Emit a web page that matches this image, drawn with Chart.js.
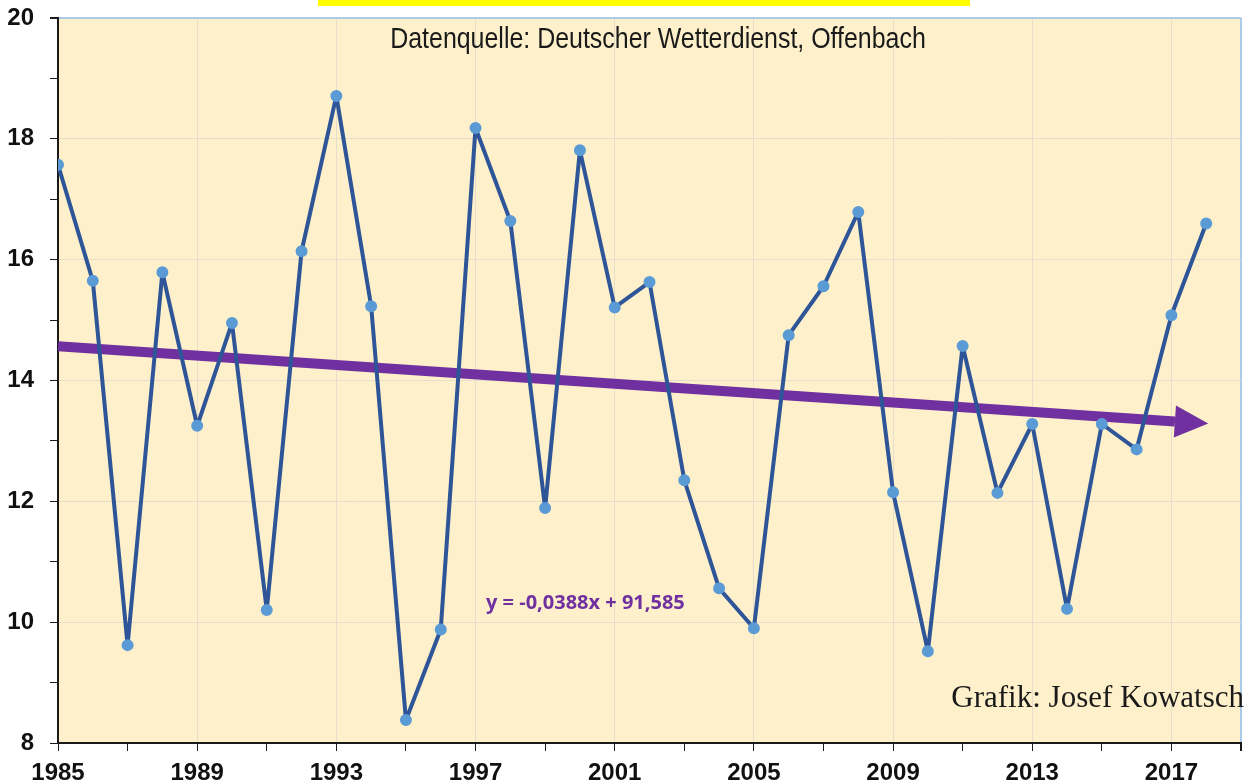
<!DOCTYPE html>
<html>
<head>
<meta charset="utf-8">
<script src="https://cdn.jsdelivr.net/npm/chart.js@4.4.1/dist/chart.umd.min.js"></script>
<style>
  html, body { margin: 0; padding: 0; background: #fff; }
  #wrap { width: 1249px; height: 784px; position: relative; }
</style>
</head>
<body>
<div id="wrap"><canvas id="grafico" width="1249" height="784"></canvas></div>
<script>
// Jahre und Temperaturen
const jahre = [1985,1986,1987,1988,1989,1990,1991,1992,1993,1994,1995,1996,1997,1998,1999,2000,
  2001,2002,2003,2004,2005,2006,2007,2008,2009,2010,2011,2012,2013,2014,2015,2016,2017,2018];
const werte = [17.57,15.65,9.62,15.79,13.25,14.95,10.2,16.14,18.71,15.23,8.38,9.88,18.18,16.64,11.89,17.81,
  15.21,15.63,12.35,10.56,9.90,14.75,15.56,16.79,12.15,9.52,14.57,12.14,13.28,10.22,13.28,12.86,15.08,16.6];

// Trendlinie laut Gleichung im Diagramm
const steigung = -0.0388;
const achsenabschnitt = 91.585;
const trendJahre = [1985, 2017.1];
const pfeilSpitze = 2018;

const yTicks = [8, 10, 12, 14, 16, 18, 20];
const xTickStart = 1985;

let punkte = [];
for (let i = 0; i < jahre.length; i++) {
  punkte.push({x: jahre[i], y: werte[i]});
}
let trend = trendJahre.map(j => ({x: j, y: steigung * j + achsenabschnitt}));

const hintergrund = {
  id: 'hintergrund',
  beforeDraw(chart) {
    const ctx = chart.ctx, a = chart.chartArea;
    ctx.save();
    ctx.fillStyle = '#fdf0cb';
    ctx.fillRect(a.left, a.top, a.right - a.left, a.bottom - a.top);
    // gelber Balken oben
    ctx.fillStyle = '#ffff00';
    ctx.fillRect(318, 0, 652, 6);
    ctx.restore();
  },
  afterDatasetsDraw(chart) {
    const ctx = chart.ctx;
    const xs = chart.scales.x, ys = chart.scales.y;
    // Pfeilspitze
    const bx = xs.getPixelForValue(trendJahre[1]);
    const by = ys.getPixelForValue(steigung * trendJahre[1] + achsenabschnitt);
    const tx = xs.getPixelForValue(pfeilSpitze);
    const ty = ys.getPixelForValue(steigung * pfeilSpitze + achsenabschnitt);
    const ang = Math.atan2(ty - by, tx - bx);
    ctx.save();
    ctx.fillStyle = '#7030a0';
    ctx.beginPath();
    ctx.moveTo(tx + 2, ty);
    ctx.lineTo(bx + Math.sin(ang) * 16, by - Math.cos(ang) * 16);
    ctx.lineTo(bx - Math.sin(ang) * 16, by + Math.cos(ang) * 16);
    ctx.closePath();
    ctx.fill();

    // Texte
    ctx.fillStyle = '#1a1a1a';
    ctx.textBaseline = 'middle';
    ctx.save();
    ctx.translate(658, 40);
    ctx.scale(0.86, 1);
    ctx.font = '29px "Liberation Sans", Arial, sans-serif';
    ctx.textAlign = 'center';
    ctx.fillText('Datenquelle: Deutscher Wetterdienst, Offenbach', 0, 0);
    ctx.restore();

    ctx.font = '31px "Liberation Serif", serif';
    ctx.textAlign = 'right';
    ctx.fillText('Grafik: Josef Kowatsch', 1244, 699);

    ctx.fillStyle = '#7030a0';
    ctx.font = 'bold 20px "Open Sans", sans-serif';
    ctx.textAlign = 'left';
    ctx.fillText('y = -0,0388x + 91,585', 486, 603);
    ctx.restore();
  }
};

new Chart(document.getElementById('grafico'), {
  type: 'line',
  data: {
    datasets: [{
      data: punkte,
      borderColor: '#2e5597',
      borderWidth: 4,
      borderJoinStyle: 'round',
      pointBackgroundColor: '#5b9bd5',
      pointBorderColor: '#5b9bd5',
      pointRadius: 4,
      tension: 0,
      order: 0
    }, {
      data: trend,
      borderColor: '#7030a0',
      borderWidth: 10,
      pointRadius: 0,
      borderCapStyle: 'butt',
      order: 1
    }]
  },
  options: {
    responsive: false,
    animation: false,
    layout: { padding: { top: 18, right: 6, left: 0, bottom: 0 } },
    plugins: { legend: { display: false }, tooltip: { enabled: false } },
    scales: {
      x: {
        type: 'linear',
        min: 1985,
        max: 2019,
        afterFit: s => { s.height = 41; s.paddingLeft = 0; s.paddingRight = 0; },
        border: { color: '#1a1a1a', width: 2 },
        grid: {
          color: c => c.tick.value === 2019 ? '#a9cbe8' : ((c.tick.value - xTickStart) % 4 === 0 ? '#e6decb' : 'rgba(0,0,0,0)'),
          tickColor: '#1a1a1a',
          tickLength: 8,
          lineWidth: c => c.tick.value === 2019 ? 2 : 1
        },
        ticks: {
          stepSize: 2,
          padding: 8,
          color: '#111',
          font: { family: '"Liberation Sans", Arial, sans-serif', size: 24, weight: 'bold' },
          callback: v => ((v - xTickStart) % 4 === 0 ? String(v) : ''),
          maxRotation: 0,
          autoSkip: false
        }
      },
      y: {
        min: 8,
        max: 20,
        afterFit: s => { s.width = 58; s.paddingTop = 0; s.paddingBottom = 0; },
        border: { color: '#1a1a1a', width: 2 },
        grid: {
          color: c => c.tick.value === 20 ? '#a9cbe8' : (yTicks.includes(c.tick.value) ? '#e6decb' : 'rgba(0,0,0,0)'),
          tickColor: '#1a1a1a',
          tickLength: 8,
          lineWidth: c => c.tick.value === 20 ? 2 : 1
        },
        ticks: {
          stepSize: 1,
          padding: 16,
          color: '#111',
          font: { family: '"Liberation Sans", Arial, sans-serif', size: 24, weight: 'bold' },
          callback: v => (yTicks.includes(v) ? String(v) : ''),
          autoSkip: false
        }
      }
    }
  },
  plugins: [hintergrund]
});
</script>
</body>
</html>
